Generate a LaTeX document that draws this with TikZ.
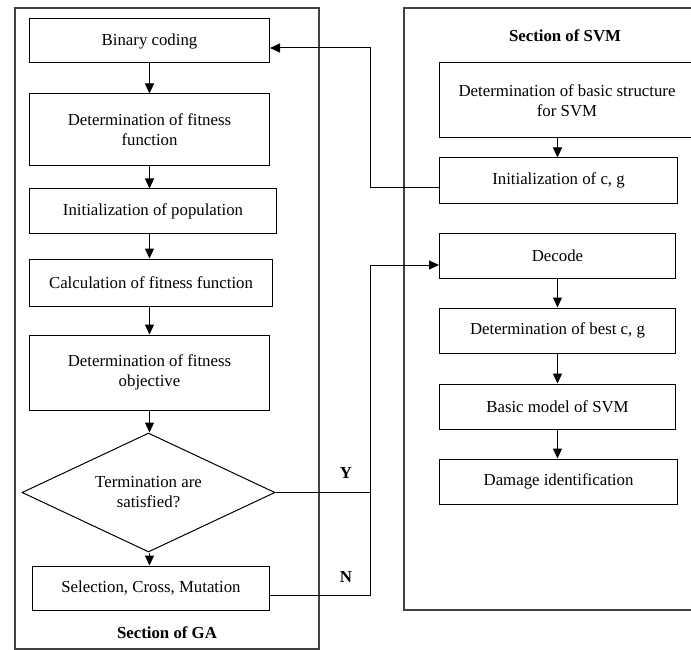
\documentclass[tikz,border=0pt]{standalone}
\usepackage{fontspec}
\setmainfont{Liberation Serif}
\usetikzlibrary{arrows.meta,shapes.geometric}

\tikzset{
  stage/.style={draw, line width=1pt, minimum height=44pt, inner sep=2pt, align=center,
    font=\fontsize{16.8}{20}\selectfont},
  test/.style={draw, diamond, line width=1pt, minimum width=253pt, minimum height=119pt,
    inner sep=0pt, aspect=2, align=center, font=\fontsize{16.8}{20}\selectfont},
  title/.style={font=\fontsize{16.8}{20}\selectfont\bfseries},
  flow/.style={line width=1pt, -{Triangle[length=10pt,width=9pt]}},
  link/.style={line width=1pt},
  frame/.style={draw, line width=1.2pt, black!75},
}

\begin{document}
\begin{tikzpicture}[x=1pt,y=-1pt]
\useasboundingbox (0,0) rectangle (691,650);

\draw[frame] (15,8) rectangle (319,649);
\draw[frame] (404,8) rectangle (740,610);

\node[stage, anchor=west, minimum width=240pt] (code) at (29,41) {Binary coding};
\node[stage, anchor=west, minimum width=240pt, minimum height=72pt] (fitfun) at (29,130) {Determination of fitness\\function};
\node[stage, anchor=west, minimum width=247pt] (initpop) at (29,211) {Initialization of population};
\node[stage, anchor=west, minimum width=243pt, minimum height=47pt] (calc) at (29,282.5) {Calculation of fitness function};
\node[stage, anchor=west, minimum width=240pt, minimum height=75pt] (obj) at (29,372.5) {Determination of fitness\\objective};
\node[test] (term) at (148.5,492.5) {Termination are\\satisfied?};
\node[stage, anchor=west, minimum width=237pt] (sel) at (32,588) {Selection, Cross, Mutation};
\node[title] (ga) at (167,633) {Section of GA};

\node[title] (svm) at (565,36) {Section of SVM};
\node[stage, anchor=west, minimum width=255pt, minimum height=75pt] (struct) at (439,100.5) {Determination of basic structure\\for SVM};
\node[stage, anchor=west, minimum width=238pt, minimum height=45pt] (initcg) at (439,180.5) {Initialization of c, g};
\node[stage, anchor=west, minimum width=236pt, minimum height=45pt] (decode) at (439,255.5) {Decode};
\node[stage, anchor=west, minimum width=236pt, minimum height=45pt] (best) at (439,330.5) {Determination of best c, g};
\node[stage, anchor=west, minimum width=236pt, minimum height=45pt] (basic) at (439,406.5) {Basic model of SVM};
\node[stage, anchor=west, minimum width=238pt, minimum height=45pt] (damage) at (439,481.5) {Damage identification};

\foreach \a/\b in {code/fitfun, fitfun/initpop, initpop/calc, calc/obj, obj/term, term/sel}
  \draw[flow] (\a.south -| code) -- (\b.north -| code);
\foreach \a/\b in {struct/initcg, decode/best, best/basic, basic/damage}
  \draw[flow] (\a.south -| decode) -- (\b.north -| decode);

\coordinate (up1) at (370,188);
\coordinate (up2) at (370,48);
\draw[flow] (initcg.west |- up1) -- (up1) -- (up2) -- (code.east |- up2);

\coordinate (yes1) at (370,492.5);
\coordinate (yes2) at (370,265);
\coordinate (no1) at (370,595);
\draw[flow] (term.east) -- (yes1) -- (yes2) -- (decode.west |- yes2);
\draw[link] (sel.east |- no1) -- (no1) -- (yes1);
\node[title] (ylab) at (346,473) {Y};
\node[title] (nlab) at (346,577) {N};
\end{tikzpicture}
\end{document}
